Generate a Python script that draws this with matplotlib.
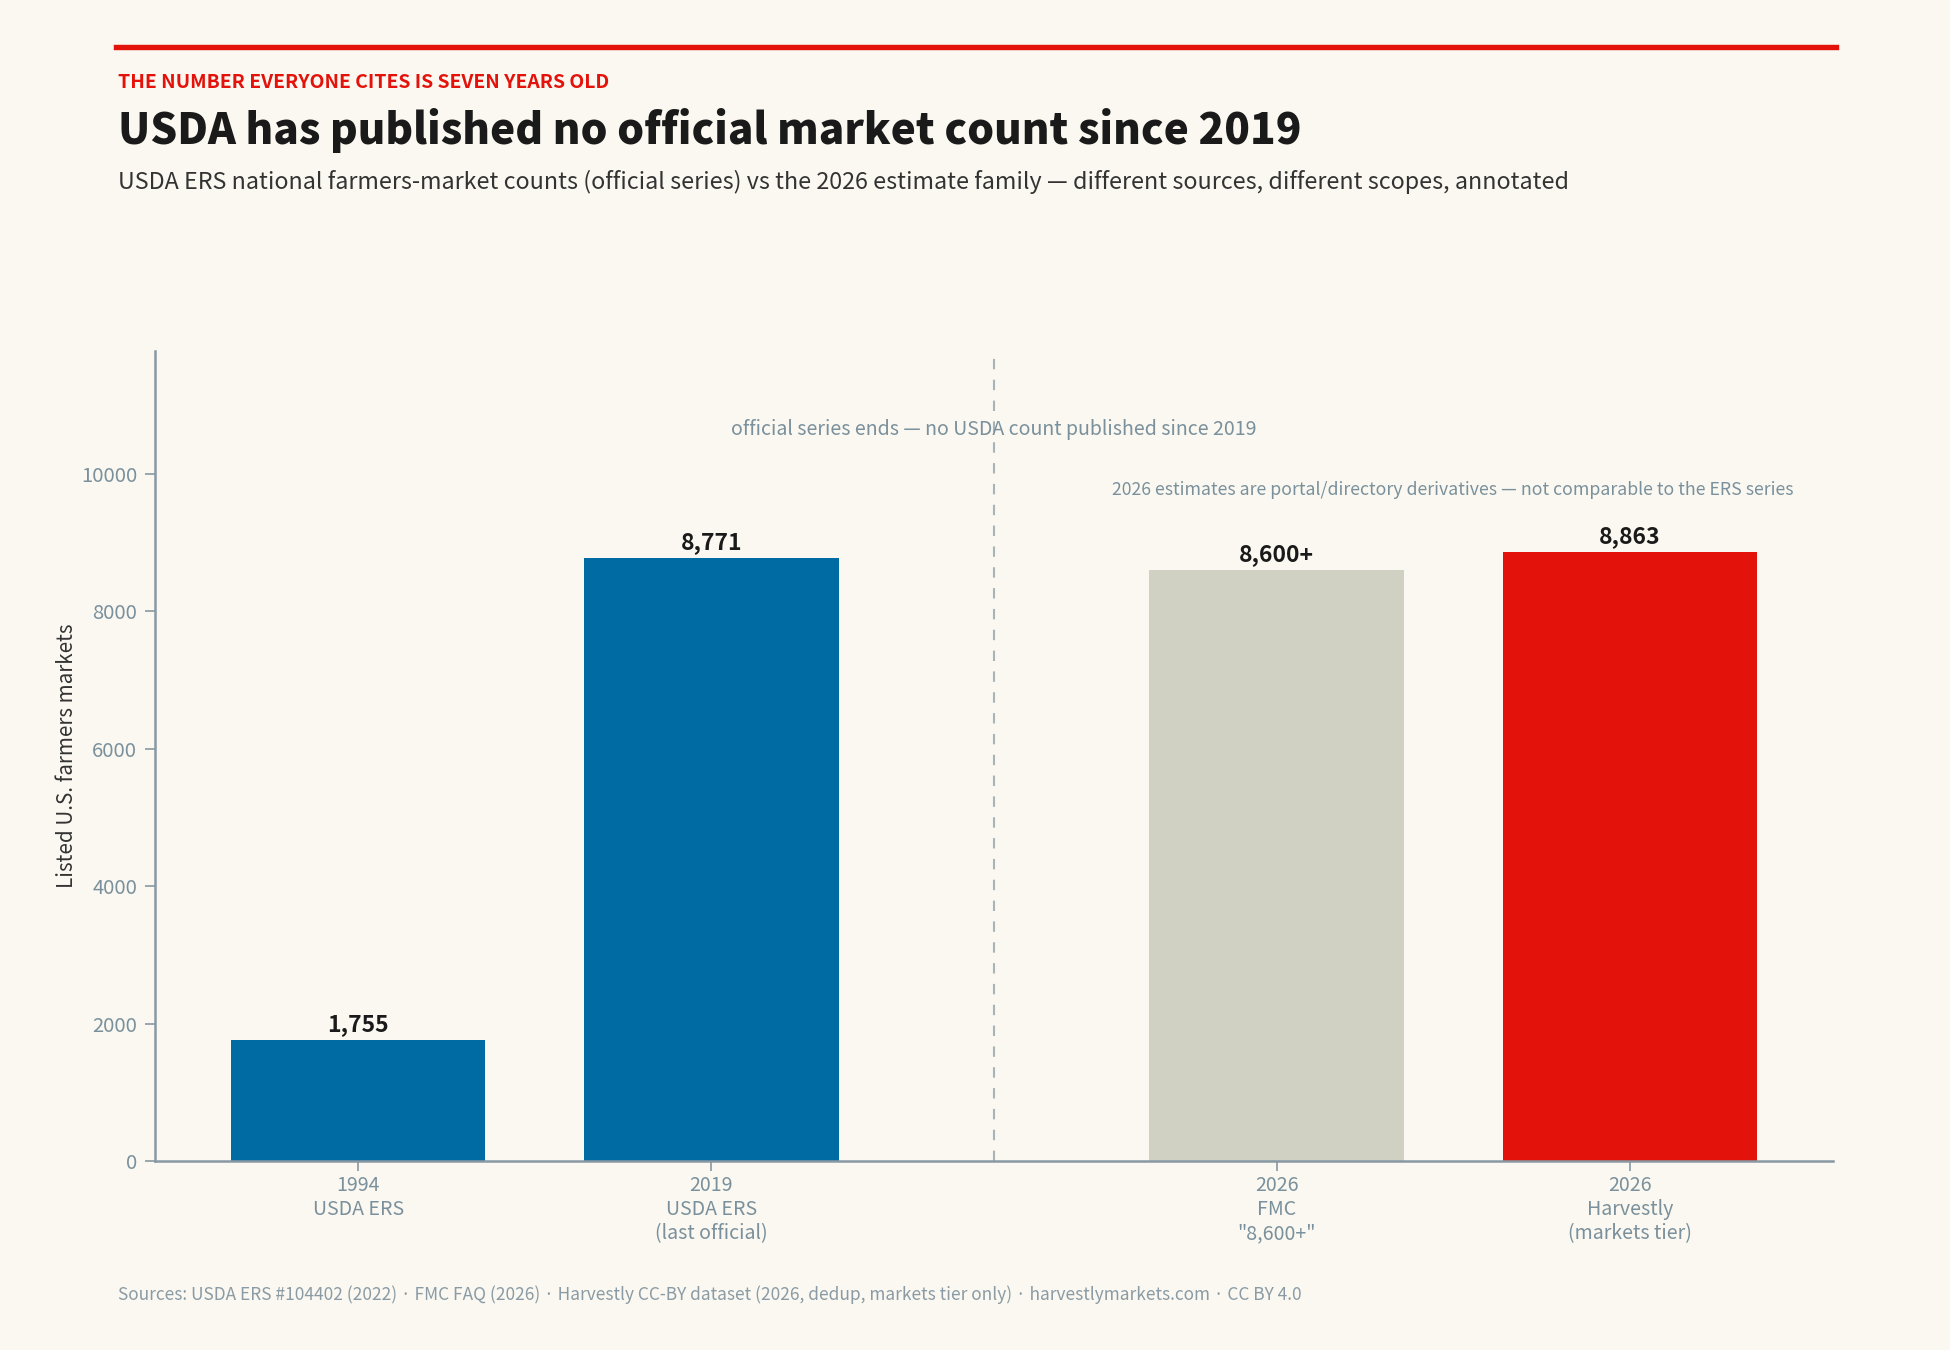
import matplotlib
matplotlib.use("Agg")
import matplotlib.pyplot as plt
from matplotlib.lines import Line2D


# ── Data ──────────────────────────────────────────────────────────────────────

years      = ["1994", "2019", "2026", "2026"]
sources    = ["USDA ERS", "USDA ERS\n(last official)", "FMC\n\"8,600+\"",
              "Harvestly\n(markets tier)"]
counts     = [1755, 8771, 8600, 8863]
bar_labels = ["1,755", "8,771", "8,600+", "8,863"]
positions  = [0, 1, 2.6, 3.6]      # gap between the official and 2026 groups
bar_colors = ["#006BA2", "#006BA2", "#D0D1C3", "#E3120B"]
break_x    = 1.8


# ── Style ─────────────────────────────────────────────────────────────────────

BG      = "#FAF8F0"
INK     = "#1A1A1A"
MUTED   = "#7A909C"
RED     = "#E3120B"
plt.rcParams["font.family"] = ["Noto Sans CJK JP", "DejaVu Sans"]

fig = plt.figure(figsize=(13, 9), dpi=150, facecolor=BG)
ax = fig.add_axes([0.0795, 0.140, 0.8605, 0.600], facecolor=BG)


# ── Bars ──────────────────────────────────────────────────────────────────────

ax.bar(positions, counts, width=0.72, color=bar_colors, zorder=2)
for x, v, lab in zip(positions, counts, bar_labels):
    ax.text(x, v + 60, lab, ha="center", va="bottom", fontsize=11,
            fontweight="bold", color=INK)

ax.axvline(break_x, color="#A9B4BA", linestyle=(0, (5, 5)), linewidth=1,
           zorder=1)
ax.text(break_x, 10650, "official series ends — no USDA count published since 2019",
        ha="center", va="center", fontsize=9.4, color=MUTED)
ax.text((positions[2] + positions[3]) / 2, 9760,
        "2026 estimates are portal/directory derivatives — not comparable to the ERS series",
        ha="center", va="center", fontsize=8.5, color=MUTED)


# ── Axes ──────────────────────────────────────────────────────────────────────

ax.set_xlim(-0.575, 4.175)
ax.set_ylim(0, 11790)
ax.set_xticks(positions)
ax.set_xticklabels([f"{y}\n{s}" for y, s in zip(years, sources)],
                   fontsize=9.4, color=MUTED, linespacing=1.2)
ax.set_yticks(range(0, 10001, 2000))
ax.tick_params(axis="y", labelsize=9.7, labelcolor=MUTED, color="#8899A4",
               length=5)
ax.tick_params(axis="x", color="#8899A4", length=5, pad=1.8)
ax.set_ylabel("Listed U.S. farmers markets", fontsize=9.9, color="#333333",
              labelpad=1.5)
for side in ["top", "right"]:
    ax.spines[side].set_visible(False)
for side in ["left", "bottom"]:
    ax.spines[side].set_color("#8899A4")
    ax.spines[side].set_linewidth(1.2)


# ── Header / footer ───────────────────────────────────────────────────────────

fig.add_artist(Line2D([0.0595, 0.9415], [0.9655, 0.9655], color=RED,
                      linewidth=2.6, transform=fig.transFigure))
fig.text(0.0605, 0.935, "THE NUMBER EVERYONE CITES IS SEVEN YEARS OLD",
         fontsize=9.3, fontweight="bold", color=RED, va="baseline")
fig.text(0.0605, 0.893, "USDA has published no official market count since 2019",
         fontsize=20.3, fontweight="heavy", color=INK, va="baseline")
fig.text(0.0605, 0.860,
         "USDA ERS national farmers-market counts (official series) vs the 2026 "
         "estimate family — different sources, different scopes, annotated",
         fontsize=11.2, color="#333333", va="baseline")
fig.text(0.0605, 0.037,
         "Sources: USDA ERS #104402 (2022) · FMC FAQ (2026) · Harvestly CC-BY dataset "
         "(2026, dedup, markets tier only) · harvestlymarkets.com · CC BY 4.0",
         fontsize=8.3, color="#8A9BA5", va="baseline")

fig.savefig("out.png", dpi=150, facecolor=BG)
